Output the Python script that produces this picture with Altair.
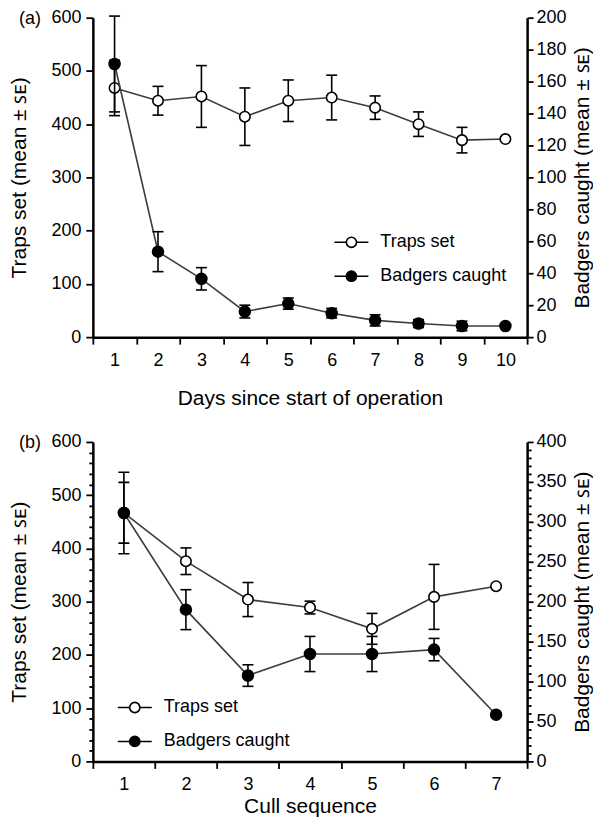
import altair as alt
import pandas as pd

# ---------------- data ----------------
days = [1, 2, 3, 4, 5, 6, 7, 8, 9, 10]
traps_a = [468, 444, 452, 414, 444, 450, 431, 400, 370, 372]
traps_a_se = [52, 27, 58, 54, 39, 42, 22, 23, 24, 4]
badgers_a = [171, 53.5, 36.5, 16, 21, 15, 10.5, 8.5, 7, 7]
badgers_a_se = [30, 12.5, 7, 4, 3.5, 3, 3.5, 2.5, 3, 0]

culls = [1, 2, 3, 4, 5, 6, 7]
traps_b = [467, 376, 304, 289, 249, 309, 329]
traps_b_se = [57, 25, 32, 12, 29, 61, 0]
badgers_b = [311, 190, 107.5, 134.5, 134.5, 140, 58.5]
badgers_b_se = [51, 25, 13.5, 22, 22, 14, 0]

series_names = ["Traps set", "Badgers caught"]

left_ticks_a = list(range(0, 601, 100))
right_ticks_a = list(range(0, 201, 20))
left_ticks_b = list(range(0, 601, 20))
right_ticks_b = list(range(0, 401, 10))

FONT = "Liberation Sans"
FS = 18      # tick labels, legend
TFS = 21     # axis titles
INK = "black"
LINE = "#3c3c3c"
SW = 1.6

LEG_PATH = ("M-1,0L-0.3,0M0.3,0L1,0"
            "M-0.3,0A0.3,0.3,0,1,1,0.3,0A0.3,0.3,0,1,1,-0.3,0Z")


def frame(xs, ms, ses, name):
    return pd.DataFrame({
        "x": xs, "m": ms,
        "lo": [m - s for m, s in zip(ms, ses)],
        "hi": [m + s for m, s in zip(ms, ses)],
        "se": ses, "series": name,
    })


def y_axis(title, values, orient, major, tick_major, label_pad, title_pad, baseline):
    kw = dict(
        title=title, values=values, orient=orient, grid=False,
        domainColor=INK, domainWidth=2.5, tickColor=INK, tickWidth=1.8,
        labelFont=FONT, labelFontSize=FS, labelColor=INK, labelPadding=label_pad,
        labelOverlap=False, titleFont=FONT, titleFontSize=TFS, titleFontWeight="normal",
        titleColor=INK, titlePadding=title_pad, titleAngle=270, titleBaseline=baseline,
    )
    if major is None:
        kw["tickSize"] = tick_major
    else:
        kw["labelExpr"] = f"datum.value % {major} === 0 ? datum.label : ''"
        kw["tickSize"] = {"condition": {"test": f"datum.value % {major} === 0",
                                        "value": tick_major}, "value": 4}
    return alt.Axis(**kw)


def series_layer(df, xenc, yaxis, ydom, fill_scale, legend, size):
    base = alt.Chart(df)
    ys = alt.Scale(domain=ydom, nice=False, zero=False)
    y = alt.Y("m:Q", scale=ys, axis=yaxis)
    err_base = base.transform_filter("datum.se > 0")
    line = base.mark_line(color=LINE, strokeWidth=SW).encode(x=xenc, y=y)
    err = err_base.mark_rule(color=INK, strokeWidth=SW).encode(
        x=xenc, y=alt.Y("lo:Q", scale=ys, axis=yaxis), y2="hi:Q")
    cap_lo = err_base.mark_tick(color=INK, thickness=SW, size=11, opacity=1).encode(
        x=xenc, y=alt.Y("lo:Q", scale=ys, axis=yaxis))
    cap_hi = err_base.mark_tick(color=INK, thickness=SW, size=11, opacity=1).encode(
        x=xenc, y=alt.Y("hi:Q", scale=ys, axis=yaxis))
    pts = base.mark_point(filled=True, size=size, stroke=INK, strokeWidth=SW, opacity=1).encode(
        x=xenc, y=y,
        fill=alt.Fill("series:N", scale=fill_scale, legend=legend))
    return alt.layer(line, err, cap_lo, cap_hi, pts)


def panel(label, xs, xtitle, x_label_pad, x_title_pad, traps, traps_se, badgers, badgers_se,
          ldom, lticks, lmajor, rdom, rticks, rmajor, legx, legy):
    xaxis = alt.Axis(
        title=xtitle, labelAngle=0, tickBand="extent", tickSize=7, tickWidth=1.8,
        tickColor=INK, domainColor=INK, domainWidth=2.5, grid=False,
        labelFont=FONT, labelFontSize=FS, labelColor=INK, labelPadding=x_label_pad,
        titleFont=FONT, titleFontSize=TFS, titleFontWeight="normal", titleColor=INK,
        titlePadding=x_title_pad)
    xenc = alt.X("x:O", scale=alt.Scale(paddingInner=0, paddingOuter=0), axis=xaxis)
    fill_scale = alt.Scale(domain=series_names, range=["white", "black"])
    legend = alt.Legend(
        title=None, orient="none", legendX=legx, legendY=legy,
        symbolType=LEG_PATH, symbolSize=1156, symbolStrokeColor=INK,
        symbolStrokeWidth=SW, symbolOpacity=1, labelFont=FONT, labelFontSize=FS,
        labelColor=INK, labelOffset=11, rowPadding=7, padding=0)

    left_axis = y_axis("Traps set (mean ± ꜱᴇ)", lticks, "left", lmajor, 7, 5, 21, "bottom")
    right_axis = y_axis("Badgers caught (mean ± ꜱᴇ)", rticks, "right", rmajor, 6, 3, 5, "top")

    t_layer = series_layer(frame(xs, traps, traps_se, series_names[0]), xenc,
                           left_axis, ldom, fill_scale, legend, 110)
    lab = alt.Chart(pd.DataFrame({"lab": [label]})).mark_text(
        font=FONT, fontSize=FS, color=INK, align="center", baseline="middle"
    ).encode(x=alt.value(-63), y=alt.value(1), text="lab:N")
    t_layer = alt.layer(t_layer, lab)
    b_layer = series_layer(frame(xs, badgers, badgers_se, series_names[1]), xenc,
                           right_axis, rdom, fill_scale, legend, 120)
    return alt.layer(t_layer, b_layer).resolve_scale(y="independent").properties(
        width=435, height=320)


panel_a = panel("(a)", days, "Days since start of operation", 7, 18,
                traps_a, traps_a_se, badgers_a, badgers_a_se,
                [0, 600], left_ticks_a, None, [0, 200], right_ticks_a, None, 241, 207)
panel_b = panel("(b)", culls, "Cull sequence", 7, 2,
                traps_b, traps_b_se, badgers_b, badgers_b_se,
                [0, 600], left_ticks_b, 100, [0, 400], right_ticks_b, 50, 24, 248)

chart = alt.vconcat(panel_a, panel_b, spacing=25).resolve_scale(
    x="independent", y="independent", fill="independent"
).properties(
    padding={"left": 0, "top": 0, "right": 0, "bottom": 0}
).configure(font=FONT).configure_view(stroke=None)

chart.save("out.html", embed_options={"renderer": "svg", "actions": False})
